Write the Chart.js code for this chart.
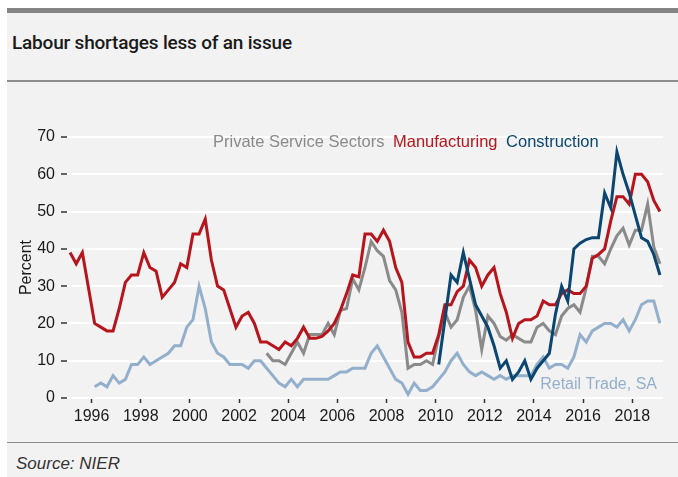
<!DOCTYPE html>
<html><head><meta charset="utf-8">
<script src="https://cdn.jsdelivr.net/npm/chart.js@4.4.1/dist/chart.umd.min.js"></script>
<style>
html,body{margin:0;padding:0;background:#fff;}
#wrap{position:relative;width:678px;height:477px;overflow:hidden;font-family:"Liberation Sans",Arial,sans-serif;}
#panel{position:absolute;left:7px;top:8px;right:0;bottom:0;background:#f2f2f2;}
#topbar{position:absolute;left:7px;top:8px;right:0;height:5px;background:#858585;}
#sep1{position:absolute;left:7px;top:80px;right:0;height:1.5px;background:#8c8c8c;}
#sep2{position:absolute;left:7px;top:441.5px;right:0;height:1.5px;background:#8c8c8c;}
#title{position:absolute;left:12px;top:33px;font-family:Roboto,"Liberation Sans",sans-serif;font-weight:500;font-size:19px;line-height:20px;color:#1a1a1a;white-space:nowrap;letter-spacing:-0.2px;}
#source{position:absolute;left:16px;top:454px;font-size:17px;line-height:20px;font-style:italic;color:#333;white-space:nowrap;}
canvas{position:absolute;left:0;top:0;}
</style></head>
<body>
<div id="wrap">
  <div id="panel"></div>
  <div id="topbar"></div>
  <div id="title">Labour shortages less of an issue</div>
  <div id="sep1"></div>
  <div id="sep2"></div>
  <div id="source">Source: NIER</div>
  <canvas id="c" width="678" height="477"></canvas>
</div>
<script>
// Quarterly data, 1995Q1 .. 2019Q1 (97 quarters)
const startYear = 1995;
const yearTicks = [1996, 1998, 2000, 2002, 2004, 2006, 2008, 2010, 2012, 2014, 2016, 2018];
const yTicks = [0, 10, 20, 30, 40, 50, 60, 70];

const manufacturing = [
  39,36,39,29.5,20,19,18,18,24,31,
  33,33,39,35,34,27,29,31,36,35,
  44,44,48,37,30,29,24,19,22,23,
  20,15,15,14,13,15,14,16,19,16,
  16,16.5,18,20,23.5,28,33,32.5,44,44,
  42,45,42,35,31,15,11,11,12,12,
  17,25,25,28.5,30,37,35,30,33,35,
  28,23,16,20,21,21,22,26,25,25,
  28,29,28,28,30,37.5,38.5,40,47.5,54,
  54,52,60,60,58,53,50
];
const privateServices = [
  null,null,null,null,null,null,null,null,null,null,
  null,null,null,null,null,null,null,null,null,null,
  null,null,null,null,null,null,null,null,null,null,
  null,null,12,10,10,9,12,15,12,17,
  17,17,20,17,23.5,24,32,29,35,42,
  39.5,38,31.5,29,23,8,9,9,10,9,
  16.5,23,19,21,27,30,23.5,13,22,20,
  16.5,15.5,17,16,15,15,19,20,18,17,
  22,24,25,23,29.5,38,38,36,40,43.5,
  45.5,41,45,45,52,40.5,36
];
const construction = [
  null,null,null,null,null,null,null,null,null,null,
  null,null,null,null,null,null,null,null,null,null,
  null,null,null,null,null,null,null,null,null,null,
  null,null,null,null,null,null,null,null,null,null,
  null,null,null,null,null,null,null,null,null,null,
  null,null,null,null,null,null,null,null,null,null,
  9,21,33,31,39,32,25,22,19,14,
  8,10,5,7,10,5,8,10,12,22.5,
  30,26,40,41.5,42.5,43,43,55,51,66,
  60,55,49,43,42,38.5,33
];
const retailTrade = [
  null,null,null,null,3,4,3,6,4,5,
  9,9,11,9,10,11,12,14,14,19,
  21,30,24,15,12,11,9,9,9,8,
  10,10,8,6,4,3,5,3,5,5,
  5,5,5,6,7,7,8,8,8,12,
  14,11,8,5,4,1,4,2,2,3,
  5,7,10,12,9,7,6,7,6,5,
  6,5,6,6,6,6,9,11,8,9,
  9,8,11,17,15,18,19,20,20,19,
  21,18,21,25,26,26,20
];

const seriesNames = ['Private Service Sectors', 'Manufacturing', 'Construction', 'Retail Trade, SA'];
const colors = {
  'Private Service Sectors': '#8a8a8a',
  'Manufacturing': '#b7151d',
  'Construction': '#0b4670',
  'Retail Trade, SA': '#94afcb'
};

function toPoints(arr) {
  return arr.map((v, i) => ({ x: startYear + i / 4 + 0.125, y: v }));
}

const FONT = '"Liberation Sans", Arial, sans-serif';

const labelPlugin = {
  id: 'seriesLabels',
  afterDraw(chart) {
    const { ctx, chartArea } = chart;
    ctx.save();
    ctx.font = '16.5px ' + FONT;
    ctx.textBaseline = 'middle';
    ctx.textAlign = 'left';
    let x = chartArea.left + 146;
    const y = chartArea.top + 5;
    seriesNames.slice(0, 3).forEach(name => {
      ctx.fillStyle = colors[name];
      ctx.fillText(name, x, y);
      x += ctx.measureText(name).width + 8.5;
    });
    ctx.font = '16px ' + FONT;
    ctx.textAlign = 'right';
    ctx.fillStyle = colors['Retail Trade, SA'];
    ctx.fillText(seriesNames[3], chartArea.right - 6, chartArea.bottom - 13);
    ctx.restore();
  }
};

const ds = (label, arr) => ({
  label,
  data: toPoints(arr),
  borderColor: colors[label],
  backgroundColor: colors[label],
  borderWidth: 3,
  pointRadius: 0,
  tension: 0,
  spanGaps: false,
  fill: false
});

new Chart(document.getElementById('c'), {
  type: 'line',
  data: {
    datasets: [
      ds('Construction', construction),
      ds('Manufacturing', manufacturing),
      ds('Private Service Sectors', privateServices),
      ds('Retail Trade, SA', retailTrade)
    ]
  },
  options: {
    responsive: false,
    animation: false,
    devicePixelRatio: 1,
    layout: { padding: { left: 0, top: 137, right: 15, bottom: 0 } },
    plugins: { legend: { display: false }, tooltip: { enabled: false } },
    scales: {
      x: {
        type: 'linear',
        min: 1995,
        max: 2019.25,
        afterBuildTicks(scale) { scale.ticks = yearTicks.map(v => ({ value: v })); },
        afterFit(scale) { scale.height = 79; },
        grid: { drawOnChartArea: false, drawTicks: true, tickLength: 5, tickColor: '#333', tickWidth: 1.5 },
        border: { display: false },
        ticks: { color: '#1a1a1a', font: { family: FONT, size: 16 }, padding: 4, maxRotation: 0, autoSkip: false,
                 callback: v => String(v) }
      },
      y: {
        min: 0,
        max: 70,
        afterBuildTicks(scale) { scale.ticks = yTicks.map(v => ({ value: v })); },
        afterFit(scale) { scale.width = 67; },
        grid: { color: '#ffffff', lineWidth: 2, drawTicks: true, tickLength: 6, tickColor: '#333', tickWidth: 1.5 },
        border: { display: false },
        ticks: { color: '#1a1a1a', font: { family: FONT, size: 16 }, padding: 6 },
        title: { display: true, text: 'Percent', color: '#1a1a1a', font: { family: FONT, size: 16 }, padding: { top: 17, bottom: 0 } }
      }
    }
  },
  plugins: [labelPlugin]
});
</script>
</body></html>
